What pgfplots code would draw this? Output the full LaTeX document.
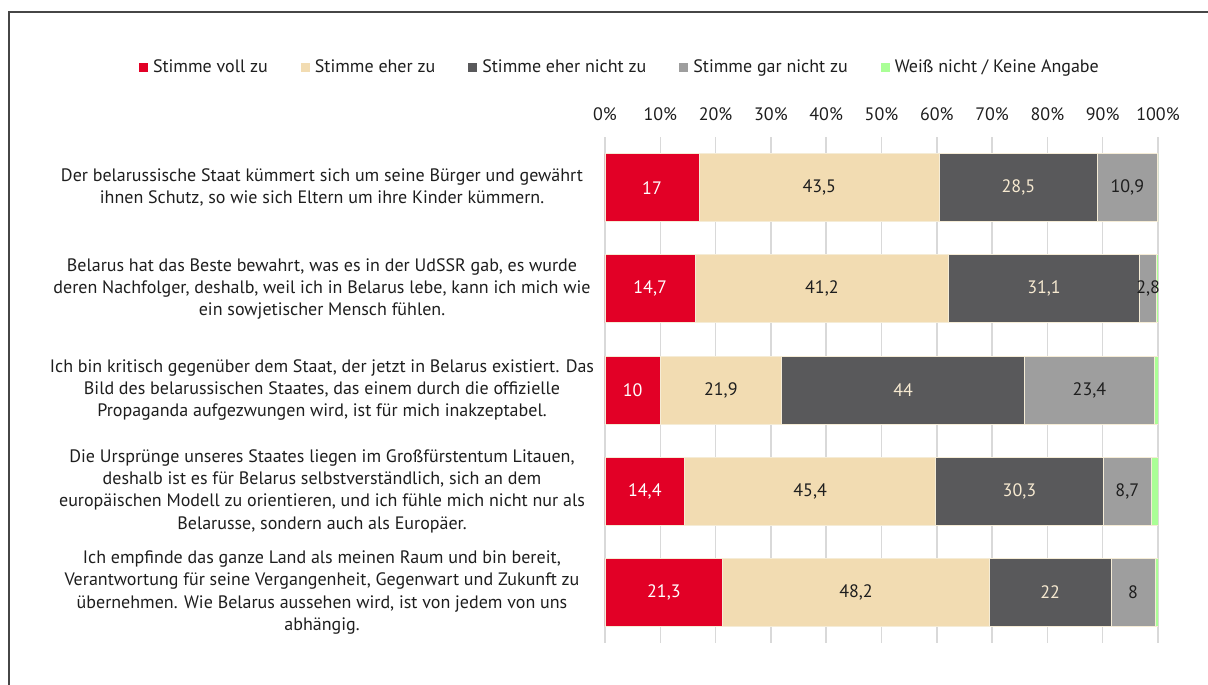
\documentclass[border=0pt]{standalone}
\usepackage{fontspec}
\setmainfont{PT Sans}
\usepackage{pgfplots}
\usepackage{pgfplotstable}
\pgfplotsset{compat=1.18}
\definecolor{cRed}{RGB}{226,0,38}
\definecolor{cBeige}{RGB}{242,220,178}
\definecolor{cDark}{RGB}{89,89,91}
\definecolor{cGray}{RGB}{158,158,158}
\definecolor{cGreen}{RGB}{170,255,150}
\definecolor{cEdge}{RGB}{245,236,214}
\definecolor{cGrid}{RGB}{217,217,217}
\definecolor{cFrame}{RGB}{70,70,70}
\definecolor{cText}{RGB}{30,30,30}

% raw answers per statement (100% stacked in the chart)
\pgfplotstableread{
y a b c d e
0 17 43.5 28.5 10.9 0.1
1 14.7 41.2 31.1 2.8 0.2
2 10 21.9 44 23.4 0.7
3 14.4 45.4 30.3 8.7 1.2
4 21.3 48.2 22 8 0.5
}\data

\newcommand{\tot}{(\thisrow{a}+\thisrow{b}+\thisrow{c}+\thisrow{d}+\thisrow{e})}
\newcommand{\fs}{\fontsize{18}{22.3}\selectfont}

\pgfplotsset{
  base/.style={
    scale only axis, width=553pt, height=506pt,
    xmin=0, xmax=100, ymin=-0.5, ymax=4.5, y dir=reverse,
    at={(605pt,42pt)}, anchor=south west,
    /pgf/number format/assume math mode=true,
  },
}

\begin{document}
\begin{tikzpicture}[font=\fs]
\path[use as bounding box] (0,0) rectangle (1208pt,685pt);
\draw[cFrame, line width=1.3pt] (9pt,-1pt) -- (9pt,673pt) -- (1210pt,673pt);

\begin{axis}[base,
  xbar stacked, bar width=68pt,
  axis line style={draw=none}, tick style={draw=none},
  xmajorgrids, grid style={cGrid, line width=1.5pt},
  xtick={0,10,...,100}, xticklabel pos=upper,
  xticklabel={\pgfmathprintnumber{\tick}\%},
  xticklabel style={font=\fs, text=cText, yshift=13pt},
  ytick={0,1,2,3,4},
  yticklabels={
    {Der belarussische Staat kümmert sich um seine Bürger und gewährt\\ihnen Schutz, so wie sich Eltern um ihre Kinder kümmern.},
    {Belarus hat das Beste bewahrt, was es in der UdSSR gab, es wurde\\deren Nachfolger, deshalb, weil ich in Belarus lebe, kann ich mich wie\\ein sowjetischer Mensch fühlen.},
    {Ich bin kritisch gegenüber dem Staat, der jetzt in Belarus existiert. Das\\Bild des belarussischen Staates, das einem durch die offizielle\\Propaganda aufgezwungen wird, ist für mich inakzeptabel.},
    {Die Ursprünge unseres Staates liegen im Großfürstentum Litauen,\\deshalb ist es für Belarus selbstverständlich, sich an dem\\europäischen Modell zu orientieren, und ich fühle mich nicht nur als\\Belarusse, sondern auch als Europäer.},
    {Ich empfinde das ganze Land als meinen Raum und bin bereit,\\Verantwortung für seine Vergangenheit, Gegenwart und Zukunft zu\\übernehmen. Wie Belarus aussehen wird, ist von jedem von uns\\abhängig.}
  },
  yticklabel style={font=\fs, text=cText, anchor=center, align=center, xshift=-283pt},
  legend columns=-1,
  legend style={draw=none, fill=none, font=\fs, text=cText,
    at={(rel axis cs:0.027,1.138)}, anchor=center,
    /tikz/every odd column/.append style={column sep=3pt},
    /tikz/every even column/.append style={column sep=31pt}},
  legend image code/.code={\fill[#1,draw=none] (0pt,-4.5pt) rectangle (9pt,4.5pt);},
]
\addplot[fill=cRed, draw=cEdge, line width=0.8pt] table[y=y, x expr=100*\thisrow{a}/\tot] \data;
\addplot[fill=cBeige, draw=cEdge, line width=0.8pt] table[y=y, x expr=100*\thisrow{b}/\tot] \data;
\addplot[fill=cDark, draw=cEdge, line width=0.8pt] table[y=y, x expr=100*\thisrow{c}/\tot] \data;
\addplot[fill=cGray, draw=cEdge, line width=0.8pt] table[y=y, x expr=100*\thisrow{d}/\tot] \data;
\addplot[fill=cGreen, draw=cEdge, line width=0.8pt] table[y=y, x expr=100*\thisrow{e}/\tot] \data;
\legend{Stimme voll zu, Stimme eher zu, Stimme eher nicht zu, Stimme gar nicht zu, Weiß nicht / Keine Angabe}
\end{axis}

\begin{axis}[base, hide axis, point meta=explicit,
  nodes near coords={\pgfmathprintnumber[use comma]{\pgfplotspointmeta}},
  every node near coord/.append style={anchor=center, font=\fs},
]
\addplot[draw=none, mark=none, every node near coord/.append style={text=white}]
  table[y=y, meta=a, x expr=100*(\thisrow{a}/2)/\tot] \data;
\addplot[draw=none, mark=none, every node near coord/.append style={text=cText}]
  table[y=y, meta=b, x expr=100*(\thisrow{a}+\thisrow{b}/2)/\tot] \data;
\addplot[draw=none, mark=none, every node near coord/.append style={text=cBeige!60!white}]
  table[y=y, meta=c, x expr=100*(\thisrow{a}+\thisrow{b}+\thisrow{c}/2)/\tot] \data;
\addplot[draw=none, mark=none, every node near coord/.append style={text=cText}]
  table[y=y, meta=d, x expr=100*(\thisrow{a}+\thisrow{b}+\thisrow{c}+\thisrow{d}/2)/\tot] \data;
\end{axis}
\end{tikzpicture}
\end{document}
